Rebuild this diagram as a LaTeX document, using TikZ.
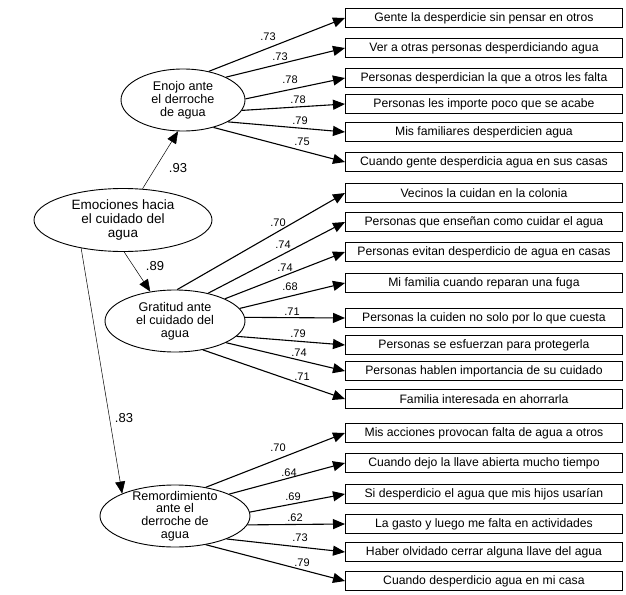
\documentclass[tikz,border=0pt]{standalone}
\usepackage{fontspec}
\setmainfont{Liberation Sans}
\usetikzlibrary{arrows.meta,shapes.geometric}
\begin{document}
\begin{tikzpicture}[x=1pt,y=-1pt,
 item/.style={draw, line width=0.9pt, minimum width=277pt, minimum height=19pt, inner sep=0pt, font=\fontsize{12.2}{12}\selectfont, anchor=west},
 latent/.style={draw, ellipse, line width=0.9pt, inner sep=0pt, align=center, font=\fontsize{12.6}{12.8}\selectfont},
 load/.style={line width=1.1pt, -{Triangle[length=12pt,width=10pt]}},
 struct/.style={line width=0.5pt, -{Triangle[length=12pt,width=10pt]}},
 lbl/.style={font=\fontsize{11}{12}\selectfont, inner sep=0pt},
 slbl/.style={font=\fontsize{13}{14}\selectfont, inner sep=0pt}]
\useasboundingbox (0,0) rectangle (626,594);

% latent variables
\node[latent, minimum width=124pt, minimum height=62pt] (enojo) at (183,100) {Enojo ante\\el derroche\\de agua};
\node[latent, minimum width=178pt, minimum height=63pt, font=\fontsize{13.5}{14}\selectfont] (emo) at (123,220) {Emociones hacia\\el cuidado del\\agua};
\node[latent, minimum width=140pt, minimum height=62pt] (grat) at (175,321) {Gratitud ante\\el cuidado del\\agua};
\node[latent, minimum width=150pt, minimum height=62pt, inner ysep=-10pt] (rem) at (175,516) {Remordimiento\\ante el\\derroche de\\agua};

% indicators
\node[item] (b1) at (345,18) {Gente la desperdicie sin pensar en otros};
\node[item] (b2) at (345,48) {Ver a otras personas desperdiciando agua};
\node[item] (b3) at (345,78) {Personas desperdician la que a otros les falta};
\node[item] (b4) at (345,104) {Personas les importe poco que se acabe};
\node[item] (b5) at (345,132) {Mis familiares desperdicien agua};
\node[item] (b6) at (345,162) {Cuando gente desperdicia agua en sus casas};
\node[item] (b7) at (345,193) {Vecinos la cuidan en la colonia};
\node[item] (b8) at (345,222) {Personas que enseñan como cuidar el agua};
\node[item] (b9) at (345,252) {Personas evitan desperdicio de agua en casas};
\node[item] (b10) at (345,283) {Mi familia cuando reparan una fuga};
\node[item] (b11) at (345,318) {Personas la cuiden no solo por lo que cuesta};
\node[item] (b12) at (345,345) {Personas se esfuerzan para protegerla};
\node[item] (b13) at (345,371) {Personas hablen importancia de su cuidado};
\node[item] (b14) at (345,399) {Familia interesada en ahorrarla};
\node[item] (b15) at (345,433) {Mis acciones provocan falta de agua a otros};
\node[item] (b16) at (345,463) {Cuando dejo la llave abierta mucho tiempo};
\node[item] (b17) at (345,494) {Si desperdicio el agua que mis hijos usarían};
\node[item] (b18) at (345,524) {La gasto y luego me falta en actividades};
\node[item] (b19) at (345,552) {Haber olvidado cerrar alguna llave del agua};
\node[item] (b20) at (345,581) {Cuando desperdicio agua en mi casa};

% structural paths
\draw[struct] (emo.58) -- (enojo.261);
\draw[struct] (emo.-88) -- (grat.130);
\draw[struct] (emo.214) -- (rem.157);
\node[slbl] (l93) at (178,168) {.93};
\node[slbl] (l89) at (155,266) {.89};
\node[slbl] (l83) at (124,418) {.83};

% Enojo loadings
\draw[load] (enojo.48) -- (b1.west);
\draw[load] (enojo.28) -- (b2.west);
\draw[load] (enojo.1) -- (b3.west);
\draw[load] (enojo.-10) -- (b4.west);
\draw[load] (enojo.-26) -- (b5.west);
\draw[load] (enojo.-42) -- (b6.west);
\node[lbl] (e1) at (268,37) {.73};
\node[lbl] (e2) at (280,57) {.73};
\node[lbl] (e3) at (290,80) {.78};
\node[lbl] (e4) at (298,100) {.78};
\node[lbl] (e5) at (300,121) {.79};
\node[lbl] (e6) at (302,142) {.75};

% Gratitud loadings
\draw[load] (grat.86) -- (b7.west);
\draw[load] (grat.40) -- (b8.west);
\draw[load] (grat.24) -- (b9.west);
\draw[load] (grat.11) -- (b10.west);
\draw[load] (grat.3) -- (b11.west);
\draw[load] (grat.-14) -- (b12.west);
\draw[load] (grat.-23) -- (b13.west);
\draw[load] (grat.-46) -- (b14.west);
\node[lbl] (g1) at (278,223) {.70};
\node[lbl] (g2) at (283,245) {.74};
\node[lbl] (g3) at (285,268) {.74};
\node[lbl] (g4) at (290,287) {.68};
\node[lbl] (g5) at (292,312) {.71};
\node[lbl] (g6) at (298,334) {.79};
\node[lbl] (g7) at (299,353) {.74};
\node[lbl] (g8) at (302,377) {.71};

% Remordimiento loadings
\draw[load] (rem.43) -- (b15.west);
\draw[load] (rem.22) -- (b16.west);
\draw[load] (rem.3) -- (b17.west);
\draw[load] (rem.-7) -- (b18.west);
\draw[load] (rem.-24) -- (b19.west);
\draw[load] (rem.-43) -- (b20.west);
\node[lbl] (r1) at (278,448) {.70};
\node[lbl] (r2) at (289,473) {.64};
\node[lbl] (r3) at (293,497) {.69};
\node[lbl] (r4) at (295,518) {.62};
\node[lbl] (r5) at (300,538) {.73};
\node[lbl] (r6) at (302,563) {.79};
\end{tikzpicture}
\end{document}
